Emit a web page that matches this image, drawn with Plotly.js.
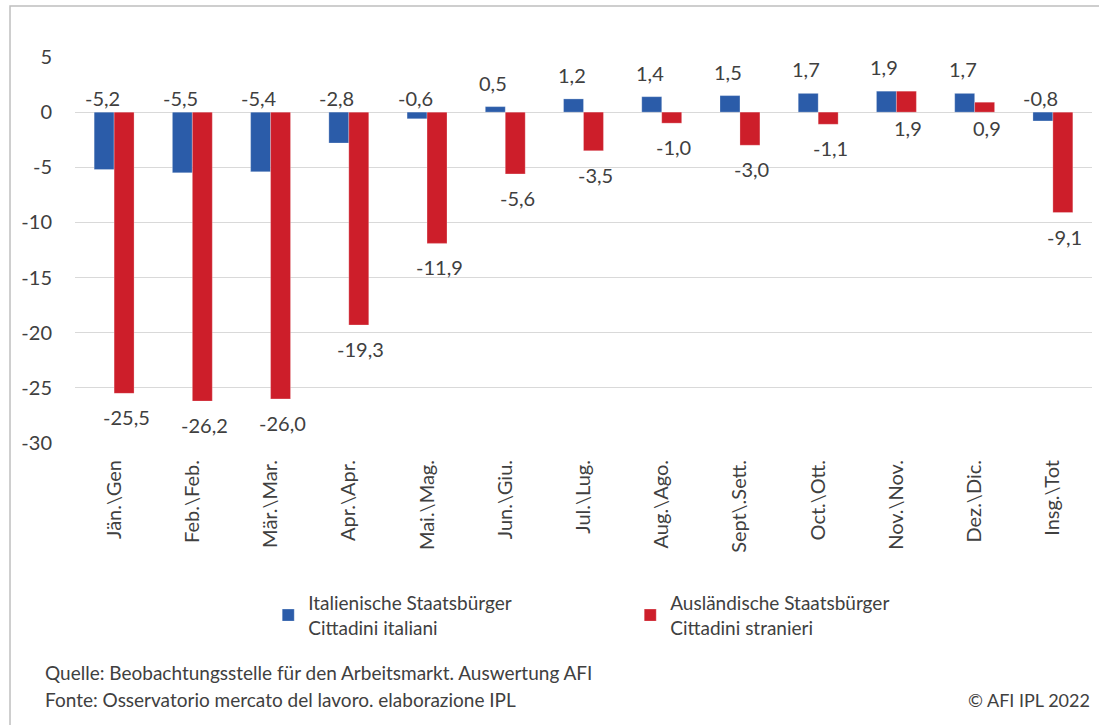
<!DOCTYPE html>
<html>
<head>
<meta charset="utf-8">
<script src="https://cdn.plot.ly/plotly-3.0.1.min.js"></script>
<style>html,body{margin:0;padding:0;background:#fff;}#chart{width:1099px;height:725px;}</style>
</head>
<body>
<div id="chart"></div>
<script>
const categories = ["Jän.\\Gen", "Feb.\\Feb.", "Mär.\\Mar.", "Apr.\\Apr.", "Mai.\\Mag.", "Jun.\\Giu.", "Jul.\\Lug.", "Aug.\\Ago.", "Sept\\.Sett.", "Oct.\\Ott.", "Nov.\\Nov.", "Dez.\\Dic.", "Insg.\\Tot"];
const italiani = [-5.2, -5.5, -5.4, -2.8, -0.6, 0.5, 1.2, 1.4, 1.5, 1.7, 1.9, 1.7, -0.8];
const stranieri = [-25.5, -26.2, -26.0, -19.3, -11.9, -5.6, -3.5, -1.0, -3.0, -1.1, 1.9, 0.9, -9.1];
const seriesNames = ["Italienische Staatsbürger<br>Cittadini italiani", "Ausländische Staatsbürger<br>Cittadini stranieri"];
const yTicks = [5, 0, -5, -10, -15, -20, -25, -30];
const sourceLines = ["Quelle: Beobachtungsstelle für den Arbeitsmarkt. Auswertung AFI", "Fonte: Osservatorio mercato del lavoro. elaborazione IPL"];
const copyright = "© AFI IPL 2022";

const FONT = "Lato, sans-serif";
const TXT = "#404040";
const BLUE = "#2b5ca9";
const RED = "#cd1e2a";
const fmt = v => v.toFixed(1).replace('.', ',');

const traces = [
  {type: 'bar', x: categories, y: italiani, name: seriesNames[0], marker: {color: BLUE, line: {color: 'rgba(255,255,255,0.5)', width: 0.5}}, hoverinfo: 'skip'},
  {type: 'bar', x: categories, y: stranieri, name: seriesNames[1], marker: {color: RED, line: {color: 'rgba(255,255,255,0.5)', width: 0.5}}, hoverinfo: 'skip'}
];

const annotations = [];
categories.forEach((c, i) => {
  const a = italiani[i];
  annotations.push({x: c, y: Math.max(0, a), xref: 'x', yref: 'y', text: fmt(a), showarrow: false,
    xanchor: 'center', yanchor: 'bottom', xshift: -12, yshift: a > 0 ? 10 : 0,
    font: {family: FONT, size: 20, color: TXT}});
  const b = stranieri[i];
  annotations.push({x: c, y: Math.min(0, b), xref: 'x', yref: 'y', text: fmt(b), showarrow: false,
    xanchor: 'center', yanchor: 'top', xshift: 12, yshift: b > 0 ? -2 : -10,
    font: {family: FONT, size: 20, color: TXT}});
});
annotations.push({x: -0.031, y: -0.595, xref: 'paper', yref: 'paper', text: sourceLines[0], showarrow: false, xanchor: 'left', yanchor: 'middle', font: {family: FONT, size: 19, color: TXT}});
annotations.push({x: -0.031, y: -0.665, xref: 'paper', yref: 'paper', text: sourceLines[1], showarrow: false, xanchor: 'left', yanchor: 'middle', font: {family: FONT, size: 19, color: TXT}});
annotations.push({x: 1.0, y: -0.665, xref: 'paper', yref: 'paper', text: copyright, showarrow: false, xanchor: 'right', yanchor: 'middle', font: {family: FONT, size: 18, color: TXT}});

const layout = {
  width: 1099, height: 725,
  margin: {l: 75, r: 7, t: 57, b: 282},
  paper_bgcolor: '#fff', plot_bgcolor: '#fff',
  font: {family: FONT, size: 20, color: TXT},
  barmode: 'group', bargap: 0.49, bargroupgap: 0,
  showlegend: true,
  legend: {orientation: 'h', x: 0.19, xanchor: 'left', y: -0.365, yanchor: 'top',
    entrywidth: 317, entrywidthmode: 'pixels', itemwidth: 30,
    font: {family: FONT, size: 19, color: TXT}, bgcolor: 'rgba(0,0,0,0)'},
  xaxis: {type: 'category', tickangle: -90, showgrid: false, zeroline: false, showline: false, ticks: '',
    ticklabelstandoff: 12, tickfont: {family: FONT, size: 20, color: TXT}, fixedrange: true},
  yaxis: {range: [-30, 5], tickvals: yTicks, ticktext: yTicks.map(String), showgrid: true, gridcolor: '#d9d9d9', gridwidth: 1,
    zeroline: true, zerolinecolor: '#d9d9d9', zerolinewidth: 1, showline: false, ticks: '',
    ticklabelstandoff: 22, tickfont: {family: FONT, size: 20, color: TXT}, fixedrange: true},
  shapes: [{type: 'rect', xref: 'paper', yref: 'paper', x0: -0.0639, x1: 1.02, y0: -0.8, y1: 1.132,
    line: {color: '#bfbfbf', width: 1.5}, fillcolor: 'rgba(0,0,0,0)', layer: 'below'}],
  annotations: annotations
};

Plotly.newPlot('chart', traces, layout, {displayModeBar: false, staticPlot: true});
</script>
</body>
</html>
